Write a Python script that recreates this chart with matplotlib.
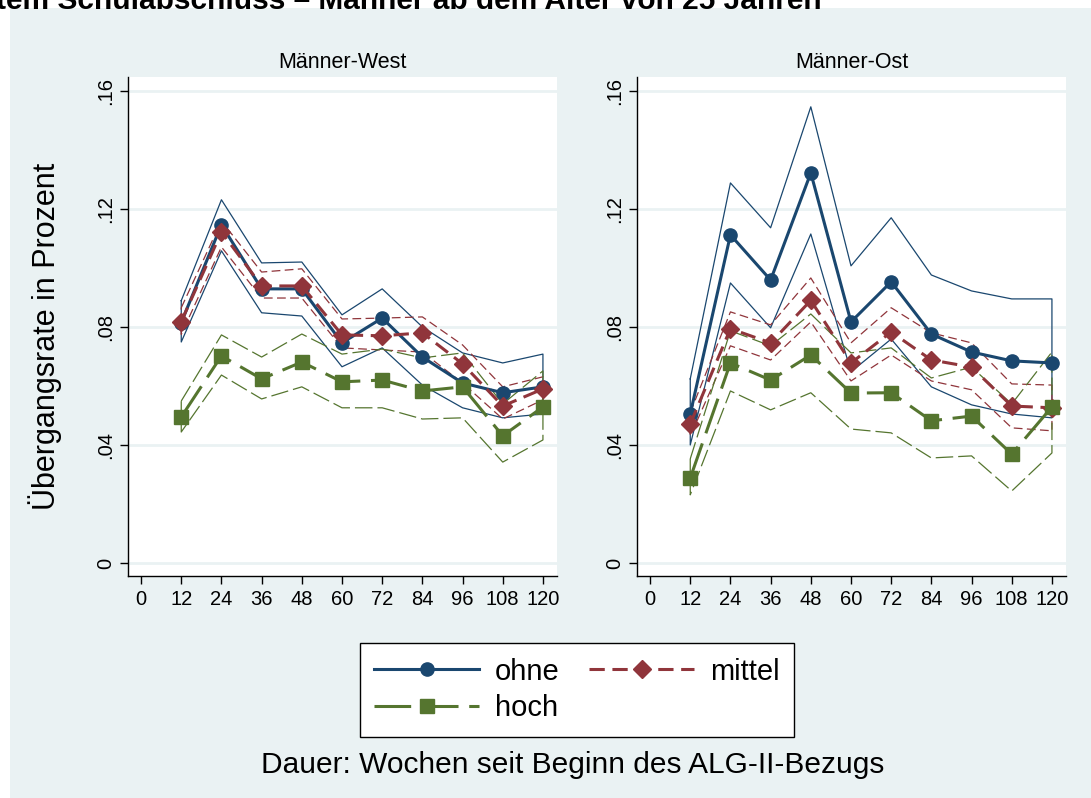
import matplotlib.pyplot as plt
from matplotlib.patches import Rectangle
from matplotlib.lines import Line2D

plt.rcParams['font.family'] = ['Liberation Sans', 'DejaVu Sans']

wochen = [12, 24, 36, 48, 60, 72, 84, 96, 108, 120]
x_ticks = [0, 12, 24, 36, 48, 60, 72, 84, 96, 108, 120]
y_ticks = [0, 0.04, 0.08, 0.12, 0.16]
y_labels = ['0', '.04', '.08', '.12', '.16']

# Männer-West
west_ohne = [0.0815, 0.1146, 0.0929, 0.0929, 0.0746, 0.0830, 0.0698, 0.0610, 0.0577, 0.0597]
west_ohne_hi = [0.0889, 0.1231, 0.1017, 0.1020, 0.0841, 0.0929, 0.0800, 0.0712, 0.0678, 0.0708]
west_ohne_lo = [0.0749, 0.1058, 0.0848, 0.0837, 0.0665, 0.0729, 0.0603, 0.0526, 0.0492, 0.0505]
west_mittel = [0.0818, 0.1122, 0.0939, 0.0939, 0.0773, 0.0770, 0.0780, 0.0675, 0.0532, 0.0590]
west_mittel_hi = [0.0865, 0.1159, 0.0986, 0.0997, 0.0827, 0.0830, 0.0834, 0.0739, 0.0597, 0.0631]
west_mittel_lo = [0.0775, 0.1071, 0.0898, 0.0898, 0.0729, 0.0722, 0.0715, 0.0610, 0.0488, 0.0553]
west_hoch = [0.0495, 0.0702, 0.0624, 0.0681, 0.0614, 0.0620, 0.0583, 0.0597, 0.0431, 0.0529]
west_hoch_hi = [0.0549, 0.0773, 0.0698, 0.0776, 0.0708, 0.0725, 0.0695, 0.0712, 0.0539, 0.0651]
west_hoch_lo = [0.0444, 0.0637, 0.0556, 0.0597, 0.0526, 0.0526, 0.0488, 0.0492, 0.0342, 0.0417]

# Männer-Ost
ost_ohne = [0.0505, 0.1112, 0.0959, 0.1322, 0.0817, 0.0953, 0.0776, 0.0715, 0.0685, 0.0678]
ost_ohne_hi = [0.0624, 0.1288, 0.1136, 0.1546, 0.1007, 0.1170, 0.0976, 0.0922, 0.0895, 0.0895]
ost_ohne_lo = [0.0400, 0.0949, 0.0797, 0.1115, 0.0648, 0.0759, 0.0597, 0.0536, 0.0505, 0.0492]
ost_mittel = [0.0471, 0.0794, 0.0746, 0.0890, 0.0678, 0.0783, 0.0688, 0.0664, 0.0532, 0.0526]
ost_mittel_hi = [0.0510, 0.0851, 0.0807, 0.0966, 0.0746, 0.0865, 0.0780, 0.0746, 0.0607, 0.0603]
ost_mittel_lo = [0.0430, 0.0736, 0.0688, 0.0817, 0.0617, 0.0705, 0.0617, 0.0587, 0.0458, 0.0448]
ost_hoch = [0.0288, 0.0678, 0.0620, 0.0705, 0.0576, 0.0577, 0.0482, 0.0498, 0.0369, 0.0529]
ost_hoch_hi = [0.0353, 0.0787, 0.0736, 0.0844, 0.0712, 0.0729, 0.0627, 0.0664, 0.0539, 0.0715]
ost_hoch_lo = [0.0231, 0.0583, 0.0519, 0.0577, 0.0454, 0.0441, 0.0356, 0.0363, 0.0244, 0.0373]

navy = '#1A476F'
maroon = '#90353B'
green = '#55752F'
bg = '#EAF2F3'

styles = {
    'ohne': dict(color=navy, ls='-', marker='o', ms=9.5),
    'mittel': dict(color=maroon, ls=(0, (5, 2.5)), marker='D', ms=9.5),
    'hoch': dict(color=green, ls=(0, (12, 3.5)), marker='s', ms=9.5),
}
ci_ls = {'ohne': '-', 'mittel': (0, (7, 3.5)), 'hoch': (0, (14, 4))}

fig = plt.figure(figsize=(10.91, 7.98), dpi=100)
fig.patches.append(Rectangle((10 / 1091, 0), 1, 1 - 8 / 798, transform=fig.transFigure,
                             facecolor=bg, edgecolor='none', zorder=-10))
# title line, cut at the top edge like in the source
fig.text(-0.004, 1 - 1 / 798, 'tem Schulabschluss – Männer ab dem Alter von 25 Jahren',
         fontsize=21.5, fontweight='bold', va='center', ha='left')

panels = [
    ('Männer-West', 128, {
        'ohne': (west_ohne, west_ohne_hi, west_ohne_lo),
        'mittel': (west_mittel, west_mittel_hi, west_mittel_lo),
        'hoch': (west_hoch, west_hoch_hi, west_hoch_lo)}),
    ('Männer-Ost', 637, {
        'ohne': (ost_ohne, ost_ohne_hi, ost_ohne_lo),
        'mittel': (ost_mittel, ost_mittel_hi, ost_mittel_lo),
        'hoch': (ost_hoch, ost_hoch_hi, ost_hoch_lo)}),
]

for title, left_px, data in panels:
    ax = fig.add_axes([left_px / 1091, 1 - 576 / 798, 429 / 1091, 499 / 798])
    ax.set_facecolor('white')
    for y in y_ticks:
        ax.axhline(y, color=bg, lw=2, zorder=0)
    for name in ['ohne', 'mittel', 'hoch']:
        mid, hi, lo = data[name]
        st = styles[name]
        # confidence band drawn as one closed outline
        xs = wochen + wochen[::-1] + [wochen[0]]
        ys = hi + lo[::-1] + [hi[0]]
        ax.plot(xs, ys, color=st['color'], ls=ci_ls[name], lw=0.9, zorder=2)
        ax.plot(wochen, mid, color=st['color'], ls=st['ls'], lw=2.2, marker=st['marker'],
                ms=st['ms'], zorder=3)
    ax.set_xlim(-3.9, 124.2)
    ax.set_ylim(-0.0044, 0.1647)
    ax.set_xticks(x_ticks)
    ax.set_xticklabels([str(v) for v in x_ticks])
    ax.set_yticks(y_ticks)
    ax.set_yticklabels(y_labels, rotation=90, va='center')
    ax.tick_params(axis='both', labelsize=14.5, length=6, width=1, direction='out')
    ax.tick_params(axis='x', pad=4)
    ax.tick_params(axis='y', pad=3)
    for s in ['top', 'right']:
        ax.spines[s].set_visible(False)
    for s in ['left', 'bottom']:
        ax.spines[s].set_linewidth(1)
    fig.text((left_px + 214.5) / 1091, 1 - 62 / 798, title, ha='center', va='center', fontsize=15.5)

fig.text(45 / 1091, 1 - 336 / 798, 'Übergangsrate in Prozent', rotation=90,
         ha='center', va='center', fontsize=22)
fig.text(573 / 1091, 1 - 765 / 798, 'Dauer: Wochen seit Beginn des ALG-II-Bezugs',
         ha='center', va='center', fontsize=21.5)

handles = [Line2D([], [], lw=2.2, **styles[n]) for n in ['ohne', 'hoch', 'mittel']]
leg = fig.legend(handles, ['ohne', 'hoch', 'mittel'], ncol=2, loc='center',
                 bbox_to_anchor=(577 / 1091, 1 - 690 / 798), fontsize=21,
                 handlelength=3.6, handletextpad=0.55, columnspacing=1.0,
                 labelspacing=0.3, borderpad=0.5, frameon=True, fancybox=False,
                 edgecolor='black', facecolor='white', framealpha=1)
leg.get_frame().set_linewidth(1)

fig.savefig('out.png', dpi=100)
